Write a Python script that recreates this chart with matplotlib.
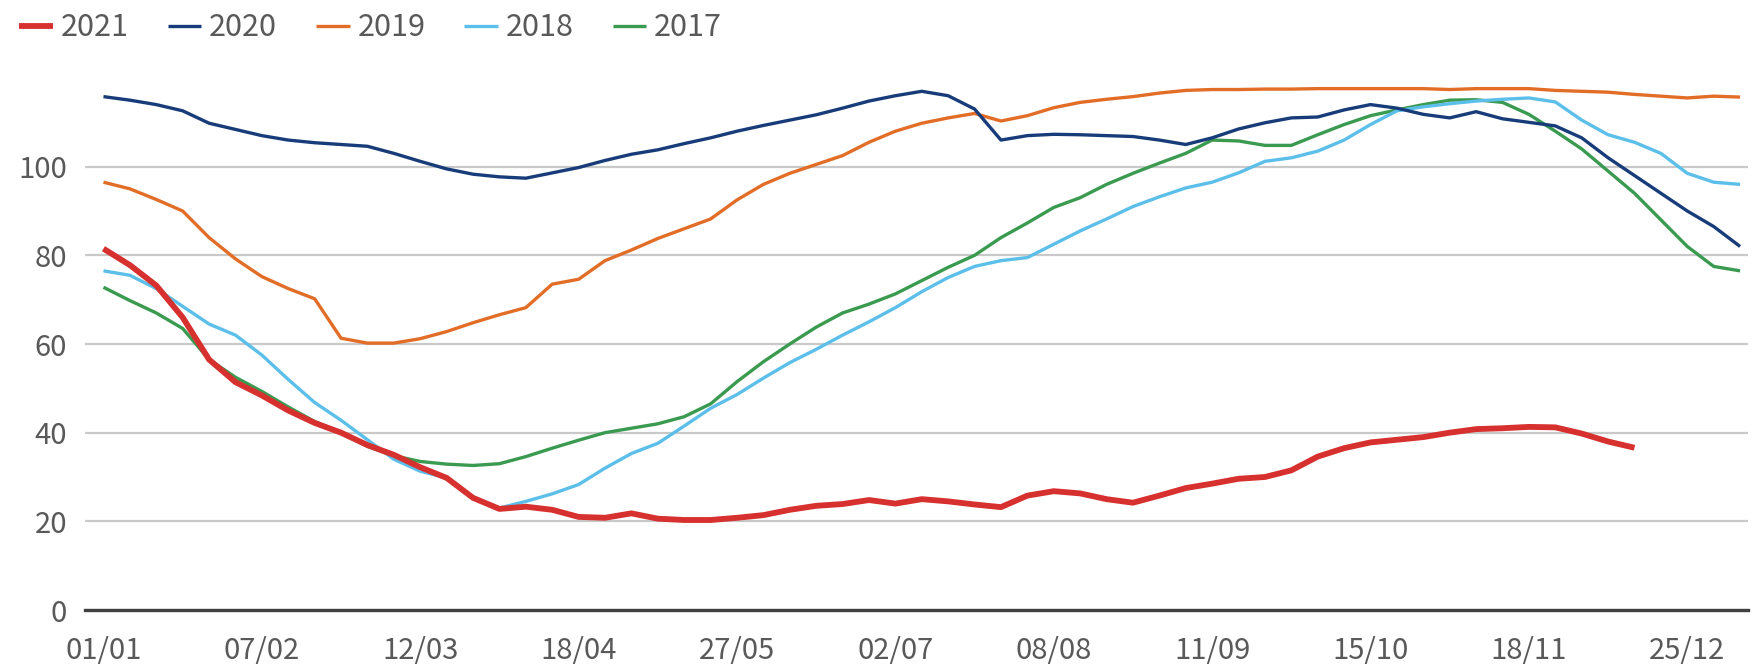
import numpy as np
import matplotlib
matplotlib.use("Agg")
import matplotlib.pyplot as plt


### Daten (ein Wert pro 1/6 Beschriftungsabstand) ###
datum_labels = ["01/01", "07/02", "12/03", "18/04", "27/05", "02/07",
                "08/08", "11/09", "15/10", "18/11", "25/12"]

werte_2021 = [81.5, 77.8, 73.2, 66.0, 56.5, 51.4, 48.4, 45.0, 42.2, 40.0,
              37.2, 35.0, 32.2, 29.8, 25.3, 22.8, 23.3, 22.6, 21.0, 20.8,
              21.8, 20.6, 20.3, 20.3, 20.8, 21.4, 22.6, 23.5, 23.9, 24.8,
              24.0, 25.0, 24.5, 23.8, 23.2, 25.8, 26.8, 26.3, 25.0, 24.2,
              25.8, 27.5, 28.5, 29.6, 30.0, 31.5, 34.6, 36.5, 37.8, 38.4,
              39.0, 40.0, 40.8, 41.0, 41.3, 41.2, 39.8, 38.0, 36.6]

werte_2020 = [115.8, 115.0, 114.0, 112.6, 109.8, 108.4, 107.0, 106.0, 105.4, 105.0,
              104.6, 103.0, 101.2, 99.5, 98.3, 97.7, 97.4, 98.6, 99.8, 101.4,
              102.8, 103.8, 105.2, 106.5, 108.0, 109.3, 110.5, 111.7, 113.2, 114.8,
              116.0, 117.0, 116.0, 113.0, 106.0, 107.0, 107.3, 107.2, 107.0, 106.8,
              106.0, 105.0, 106.5, 108.5, 109.9, 111.0, 111.2, 112.8, 114.0, 113.2,
              111.8, 111.0, 112.4, 110.8, 110.0, 109.2, 106.5, 102.0, 98.0, 94.0,
              90.0, 86.5, 82.0]

werte_2019 = [96.5, 95.0, 92.6, 90.0, 84.0, 79.2, 75.2, 72.5, 70.2, 61.3,
              60.2, 60.2, 61.2, 62.8, 64.8, 66.6, 68.2, 73.5, 74.6, 78.8,
              81.2, 83.8, 86.0, 88.2, 92.5, 96.0, 98.5, 100.5, 102.5, 105.5,
              108.0, 109.8, 111.0, 112.0, 110.3, 111.5, 113.3, 114.5, 115.2, 115.8,
              116.6, 117.2, 117.4, 117.4, 117.5, 117.5, 117.6, 117.6, 117.6, 117.6,
              117.6, 117.4, 117.6, 117.6, 117.6, 117.2, 117.0, 116.8, 116.3, 115.9,
              115.5, 115.9, 115.7]

werte_2018 = [76.5, 75.5, 72.5, 68.5, 64.5, 62.0, 57.5, 52.0, 46.8, 42.8,
              38.4, 34.0, 31.3, 29.8, 25.5, 23.0, 24.5, 26.2, 28.3, 32.0,
              35.3, 37.6, 41.5, 45.5, 48.6, 52.3, 55.8, 58.8, 62.0, 65.0,
              68.2, 71.8, 75.0, 77.5, 78.8, 79.5, 82.5, 85.5, 88.2, 91.0,
              93.2, 95.2, 96.5, 98.6, 101.2, 102.0, 103.5, 106.0, 109.5, 112.6,
              113.5, 114.2, 114.8, 115.2, 115.5, 114.6, 110.5, 107.2, 105.5, 103.0,
              98.5, 96.5, 96.0]

werte_2017 = [72.8, 69.8, 67.0, 63.5, 56.5, 52.5, 49.3, 45.8, 42.5, 40.0,
              36.9, 34.8, 33.5, 32.9, 32.6, 33.0, 34.6, 36.5, 38.3, 40.0,
              41.0, 42.0, 43.6, 46.5, 51.5, 56.0, 60.0, 63.8, 67.0, 69.0,
              71.3, 74.3, 77.3, 80.0, 84.0, 87.3, 90.8, 93.0, 96.0, 98.5,
              100.8, 103.0, 106.0, 105.8, 104.8, 104.8, 107.2, 109.5, 111.5, 112.8,
              114.0, 115.0, 115.1, 114.5, 111.8, 108.0, 104.0, 99.0, 94.0, 88.0,
              82.0, 77.5, 76.5]

jahre = ["2021", "2020", "2019", "2018", "2017"]
farben = ["#d6302f", "#183c7a", "#e26d27", "#5cbfea", "#3a9a50"]
serien = [werte_2021, werte_2020, werte_2019, werte_2018, werte_2017]
breiten = [4.2, 2.4, 2.4, 2.4, 2.4]

schritte_pro_label = 6


### Plot ###
plt.rcParams['font.family'] = ['Noto Sans CJK SC', 'DejaVu Sans']
plt.rcParams['font.weight'] = 'light'

fig = plt.figure(figsize=(17.63, 6.71), dpi=100)
ax = fig.add_axes([85 / 1763, 61 / 671, 1663 / 1763, 532 / 671])

linien = {}
# in umgekehrter Reihenfolge zeichnen, damit 2021 oben liegt
for jahr, farbe, werte, lw in reversed(list(zip(jahre, farben, serien, breiten))):
    x = np.arange(len(werte))
    linien[jahr], = ax.plot(x, werte, color=farbe, linewidth=lw,
                            solid_capstyle='butt', zorder=3)

ax.set_xlim(-0.7, 62.3)
ax.set_ylim(0, 120)
ax.set_yticks([0, 20, 40, 60, 80, 100])
ax.set_xticks(np.arange(len(datum_labels)) * schritte_pro_label)
ax.set_xticklabels(datum_labels)

ax.grid(axis='y', color='#c9c9c9', linewidth=1.6, zorder=0)
for s in ['top', 'right', 'left']:
    ax.spines[s].set_visible(False)
ax.spines['bottom'].set_color('#404040')
ax.spines['bottom'].set_linewidth(2.4)
ax.spines['bottom'].set_zorder(4)

ax.tick_params(axis='both', length=0, labelsize=21, labelcolor='#595959')
ax.tick_params(axis='y', pad=13)
ax.tick_params(axis='x', pad=19)

fig.legend([linien[j] for j in jahre], jahre, loc='upper left',
           bbox_to_anchor=(-2 / 1763, 1 + 9 / 671), ncol=5, frameon=False,
           fontsize=22, labelcolor='#595959', handlelength=1.1,
           handletextpad=0.25, columnspacing=1.28, borderpad=0.2)

fig.savefig("out.png", dpi=100)
